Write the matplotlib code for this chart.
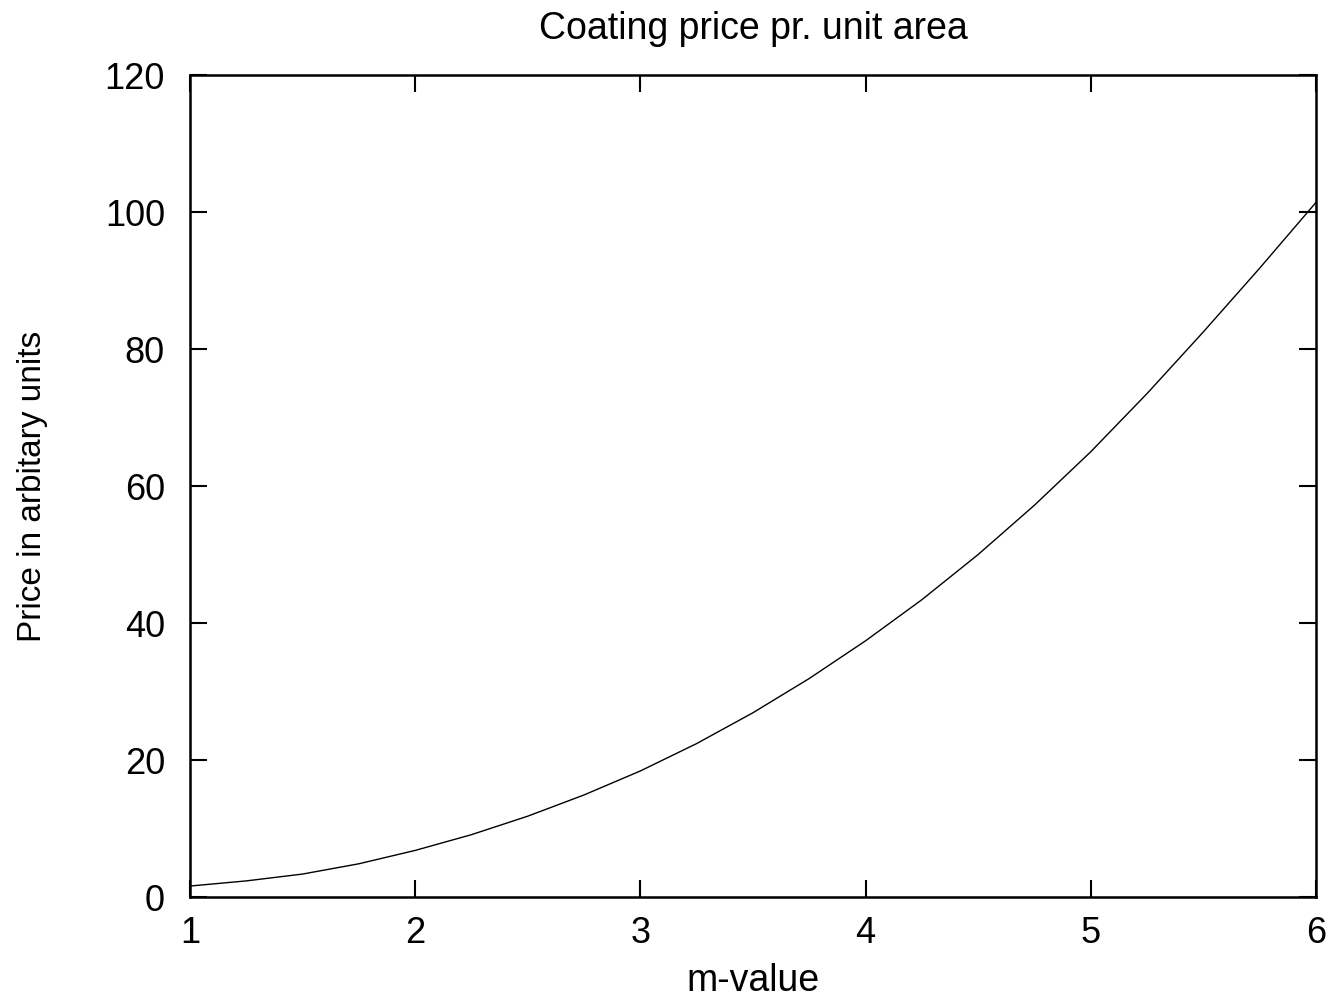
import matplotlib
matplotlib.use("Agg")
import matplotlib.pyplot as plt

# values
m_value = [1.0, 1.25, 1.5, 1.75, 2.0, 2.25, 2.5, 2.75, 3.0, 3.25, 3.5,
           3.75, 4.0, 4.25, 4.5, 4.75, 5.0, 5.25, 5.5, 5.75, 6.0]
price = [1.6, 2.35, 3.35, 4.85, 6.8, 9.1, 11.8, 14.9, 18.4, 22.4, 26.9,
         31.9, 37.4, 43.4, 50.0, 57.2, 65.0, 73.5, 82.5, 91.8, 101.4]

x_ticks = [1, 2, 3, 4, 5, 6]
y_ticks = [0, 20, 40, 60, 80, 100, 120]

plt.rcParams['font.family'] = ['Liberation Sans', 'DejaVu Sans']

fig = plt.figure(figsize=(13.33, 9.98), dpi=100)
ax = fig.add_axes([0.1425, 0.1012, 0.8447, 0.8236])

ax.plot(m_value, price, color='black', linewidth=1.0)

ax.set_xlim(1, 6)
ax.set_ylim(0, 120)
ax.set_xticks(x_ticks)
ax.set_yticks(y_ticks)

ax.tick_params(direction='in', length=12, width=1.5, labelsize=26,
               top=True, right=True)
ax.tick_params(axis='x', pad=14)
ax.tick_params(axis='y', pad=18)
for s in ax.spines.values():
    s.set_linewidth(1.8)

ax.set_title("Coating price pr. unit area", fontsize=27, pad=26)
ax.set_xlabel("m-value", fontsize=27, labelpad=8)
ax.set_ylabel("Price in arbitary units", fontsize=24, labelpad=41)

fig.savefig("out.png", dpi=100)
